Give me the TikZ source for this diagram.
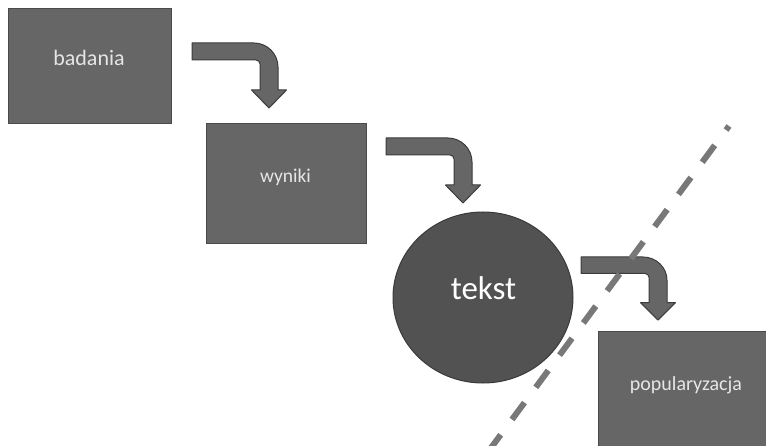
\documentclass[tikz,border=0pt]{standalone}
\usepackage{fontspec}
\setmainfont{Carlito}
\usetikzlibrary{shapes.geometric}
\definecolor{boxfill}{HTML}{666666}
\definecolor{boxline}{HTML}{4A4A4A}
\definecolor{circfill}{HTML}{525252}
\definecolor{circline}{HTML}{3A3A3A}
\definecolor{arrowfill}{HTML}{666666}
\definecolor{arrowline}{HTML}{3C3C3C}
\definecolor{dashcol}{HTML}{787878}
\definecolor{lighttext}{HTML}{E6E6E6}
\begin{document}
\begin{tikzpicture}[x=1pt,y=-1pt,
  boxstyle/.style={rectangle, draw=boxline, line width=1pt, fill=boxfill, inner sep=0pt},
  circstyle/.style={ellipse, draw=circline, line width=1pt, fill=circfill, inner sep=0pt},
  boxtext/.style={anchor=base, text=lighttext, inner sep=0pt},
  arrowstyle/.style={draw=arrowline, line width=1pt, fill=arrowfill, line join=round},
  dashline/.style={draw=dashcol, line width=6pt, dash pattern=on 21pt off 19pt, dash phase=16pt},
  bentarrow/.pic={
    \draw[arrowstyle] (0,0) -- (62,0)
      .. controls (75.2,0) and (86,10.8) .. (86,24)
      -- (86,47) -- (94.5,47) -- (77,65) -- (59.5,47) -- (68,47) -- (68,21)
      .. controls (68,18.8) and (66.2,17) .. (64,17) -- (0,17) -- cycle;
  }]
\useasboundingbox (0,0) rectangle (766,446);
\clip (0,0) rectangle (766,446);
\fill[white] (0,0) rectangle (766,446);

% boxes
\node[boxstyle, minimum width=163pt, minimum height=115pt] (badania) at (89.5,66.5) {};
\node[boxtext, font=\fontsize{22}{26}\selectfont] (badaniatxt) at (89,66) {badania};

\node[boxstyle, minimum width=160pt, minimum height=120pt] (wyniki) at (286,184) {};
\node[boxtext, font=\fontsize{19.5}{23}\selectfont] (wynikitxt) at (285.5,183) {wyniki};

\node[boxstyle, minimum width=178pt, minimum height=120pt] (popul) at (687,392) {};
\node[boxtext, font=\fontsize{20}{24}\selectfont] (popultxt) at (686,390) {popularyzacja};

% circle
\node[circstyle, minimum width=180pt, minimum height=171pt] (tekst) at (483,297.5) {};
\node[boxtext, text=white, font=\fontsize{33}{38}\selectfont] (teksttxt) at (483.5,300) {tekst};

% bent arrows
\pic (arrowA) at (192,43) {bentarrow};
\pic (arrowB) at (386,138) {bentarrow};
\pic[yscale=0.97] (arrowC) at (581,257) {bentarrow};

% dashed line
\coordinate (dtop) at (729,126);
\coordinate (dbot) at (485,456);
\draw[dashline] (dtop) -- (dbot);
\end{tikzpicture}
\end{document}
